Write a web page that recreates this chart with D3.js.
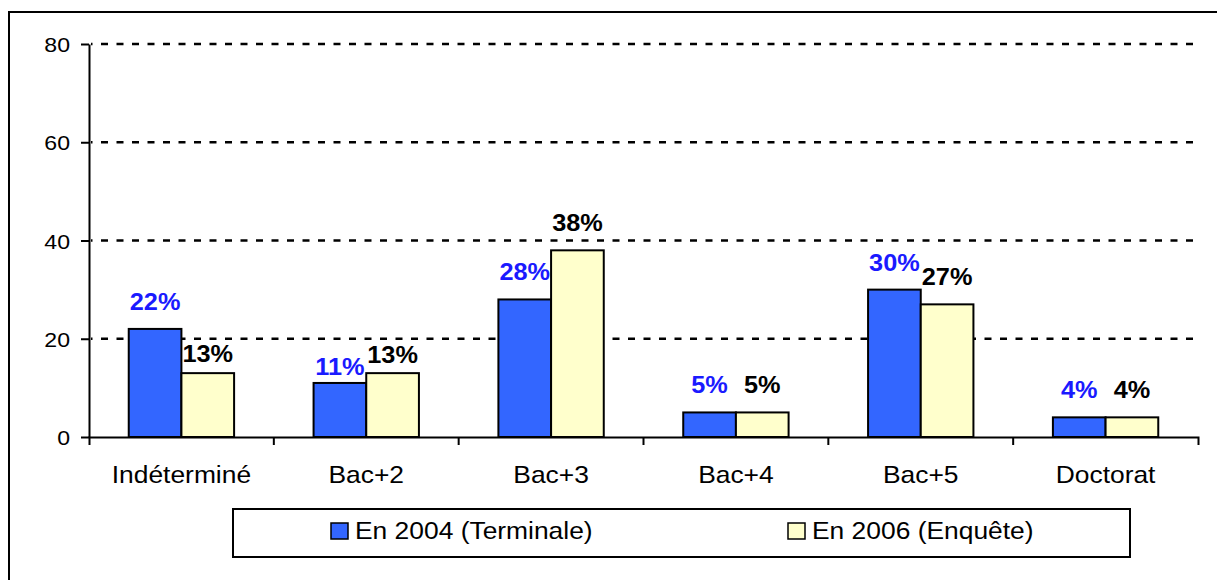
<!DOCTYPE html>
<html>
<head>
<meta charset="utf-8">
<script src="https://cdn.jsdelivr.net/npm/d3@7"></script>
<style>
    body { margin: 0; background: #fff; }
    svg { display: block; font-family: Arial, "Liberation Sans", sans-serif; }
</style>
</head>
<body>
<svg id="chart"></svg>
<script>
"use strict";

var categories = ["Indéterminé", "Bac+2", "Bac+3", "Bac+4", "Bac+5", "Doctorat"],
    seriesNames = ["En 2004 (Terminale)", "En 2006 (Enquête)"],
    values2004 = [22, 11, 28, 5, 30, 4],
    values2006 = [13, 13, 38, 5, 27, 4],
    yTicks = [0, 20, 40, 60, 80];

var Width = 1217,
    Height = 580,
    plot = { left: 89, right: 1198, top: 44, bottom: 437 },
    barFill = ["#3366ff", "#ffffcc"],
    labelFill = ["#1a1aff", "#000"],
    stretch = "scale(1.1,1)"; // the original picture is a bit wider than tall

// a few labels were moved down by hand in the original
var labelNudge = { "Indéterminé|1": 8, "Bac+2|0": 11, "Bac+2|1": 9 };

var svg = d3.select("#chart")
    .attr("width", Width)
    .attr("height", Height);

svg.append("rect")
    .attr("width", Width).attr("height", Height)
    .attr("fill", "#fff");

// outer frame
svg.append("rect")
    .attr("x", 9).attr("y", 12)
    .attr("width", Width + 20).attr("height", Height + 20)
    .attr("fill", "none")
    .attr("stroke", "#000")
    .attr("stroke-width", 2);

var y = d3.scaleLinear().domain([0, 80]).range([plot.bottom, plot.top]);

var x0 = d3.scaleBand()
    .domain(categories)
    .range([plot.left, plot.right]);

var groupWidth = x0.bandwidth() * 0.57;

var x1 = d3.scaleBand()
    .domain([0, 1])
    .range([(x0.bandwidth() - groupWidth) / 2, (x0.bandwidth() + groupWidth) / 2]);

// dashed gridlines
svg.append("g")
    .selectAll("line")
    .data(yTicks.filter(function (d) { return d > 0; }))
    .enter()
    .append("line")
    .attr("x1", plot.left + 2)
    .attr("x2", plot.right)
    .attr("y1", function (d) { return y(d); })
    .attr("y2", function (d) { return y(d); })
    .attr("stroke", "#000")
    .attr("stroke-width", 2.5)
    .attr("stroke-dasharray", "7,8.5")
    .attr("stroke-dashoffset", -10);

var rows = categories.map(function (c, i) {
    return { cat: c, vals: [values2004[i], values2006[i]] };
});

var groups = svg.append("g")
    .selectAll("g")
    .data(rows)
    .enter()
    .append("g")
    .attr("transform", function (d) { return "translate(" + x0(d.cat) + ",0)"; });

groups.selectAll("rect")
    .data(function (d) { return d.vals.map(function (v, s) { return { cat: d.cat, s: s, v: v }; }); })
    .enter()
    .append("rect")
    .attr("x", function (d) { return x1(d.s); })
    .attr("y", function (d) { return y(d.v); })
    .attr("width", x1.bandwidth())
    .attr("height", function (d) { return y(0) - y(d.v); })
    .attr("fill", function (d) { return barFill[d.s]; })
    .attr("stroke", "#000")
    .attr("stroke-width", 2);

groups.selectAll("text")
    .data(function (d) { return d.vals.map(function (v, s) { return { cat: d.cat, s: s, v: v }; }); })
    .enter()
    .append("text")
    .attr("transform", function (d) {
        var nudge = labelNudge[d.cat + "|" + d.s] || 0;
        return "translate(" + (x1(d.s) + x1.bandwidth() / 2) + "," + (y(d.v) - 19 + nudge) + ") " + stretch;
    })
    .attr("text-anchor", "middle")
    .attr("font-size", 23)
    .attr("font-weight", "bold")
    .attr("fill", function (d) { return labelFill[d.s]; })
    .text(function (d) { return d.v + "%"; });

// y axis
var yAxis = svg.append("g")
    .attr("transform", "translate(" + plot.left + ",0)")
    .call(d3.axisLeft(y).tickValues(yTicks).tickSize(8).tickSizeOuter(0));

yAxis.select(".domain").attr("stroke-width", 2);
yAxis.selectAll(".tick line").attr("stroke-width", 2);
yAxis.selectAll(".tick text")
    .attr("x", 0)
    .attr("dy", "0.36em")
    .attr("transform", "translate(-19,0) " + stretch)
    .attr("font-size", 21)
    .attr("font-family", "Arial, 'Liberation Sans', sans-serif")
    .attr("fill", "#000");

// x axis: labels centred in bands, ticks on the band edges
var xAxis = svg.append("g")
    .attr("transform", "translate(0," + plot.bottom + ")")
    .call(d3.axisBottom(x0).tickSize(0).tickSizeOuter(8));

xAxis.select(".domain").attr("stroke-width", 2);
xAxis.selectAll(".tick text")
    .attr("y", 0)
    .attr("dy", 0)
    .attr("transform", "translate(0,46) " + stretch)
    .attr("font-size", 24)
    .attr("font-family", "Arial, 'Liberation Sans', sans-serif")
    .attr("fill", "#000");

xAxis.selectAll(".edge")
    .data(categories.slice(1))
    .enter()
    .append("line")
    .attr("class", "edge")
    .attr("x1", function (d) { return x0(d); })
    .attr("x2", function (d) { return x0(d); })
    .attr("y1", 0)
    .attr("y2", 8)
    .attr("stroke", "#000")
    .attr("stroke-width", 2);

// legend
var legend = svg.append("g");

legend.append("rect")
    .attr("x", 233).attr("y", 509)
    .attr("width", 897).attr("height", 48)
    .attr("fill", "#fff")
    .attr("stroke", "#000")
    .attr("stroke-width", 2);

var item = legend.selectAll(".item")
    .data(seriesNames)
    .enter()
    .append("g")
    .attr("class", "item")
    .attr("transform", function (d, i) { return "translate(" + (331 + i * 457) + ",523)"; });

item.append("rect")
    .attr("width", 17).attr("height", 16)
    .attr("fill", function (d, i) { return barFill[i]; })
    .attr("stroke", "#000")
    .attr("stroke-width", 1.5);

item.append("text")
    .attr("transform", "translate(24,16) " + stretch)
    .attr("font-size", 24)
    .attr("fill", "#000")
    .text(function (d) { return d; });
</script>
</body>
</html>
